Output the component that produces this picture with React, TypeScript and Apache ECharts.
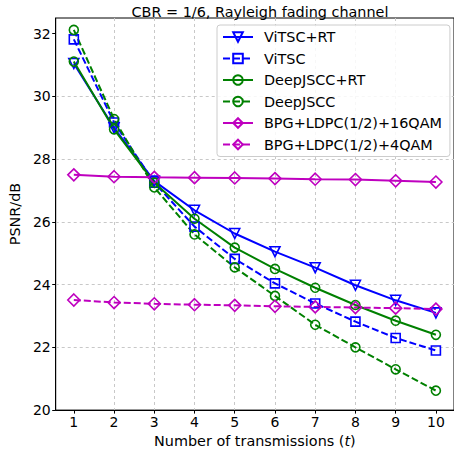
import React, { useEffect, useRef } from "react";
import * as echarts from "echarts";

const transmissions = [1, 2, 3, 4, 5, 6, 7, 8, 9, 10];
const xTicks = [1, 2, 3, 4, 5, 6, 7, 8, 9, 10];
const yTicks = [20, 22, 24, 26, 28, 30, 32];

const vitscRT = [31.05, 29.0, 27.3, 26.37, 25.63, 25.05, 24.54, 23.98, 23.5, 23.1];
const vitsc = [31.82, 29.17, 27.25, 25.85, 24.82, 24.04, 23.4, 22.82, 22.3, 21.9];
const deepjsccRT = [31.11, 28.95, 27.25, 26.1, 25.18, 24.5, 23.9, 23.35, 22.85, 22.4];
const deepjscc = [32.12, 29.28, 27.1, 25.6, 24.55, 23.64, 22.72, 22.0, 21.3, 20.62];
const bpg16 = [27.5, 27.44, 27.42, 27.41, 27.4, 27.38, 27.36, 27.35, 27.31, 27.27];
const bpg4 = [23.51, 23.43, 23.39, 23.36, 23.34, 23.31, 23.29, 23.27, 23.25, 23.22];

const names = [
  "ViTSC+RT",
  "ViTSC",
  "DeepJSCC+RT",
  "DeepJSCC",
  "BPG+LDPC(1/2)+16QAM",
  "BPG+LDPC(1/2)+4QAM",
];

const BLUE = "#0000ff";
const GREEN = "#008000";
const MAGENTA = "#bf00bf";

function mk(name: string, vals: number[], color: string, dashed: boolean, symbol: string, size: number, rotate = 0) {
  return {
    name,
    type: "line",
    data: transmissions.map((x, i) => [x, vals[i]]),
    color,
    symbol,
    symbolSize: size,
    symbolRotate: rotate,
    lineStyle: { color, width: 2, type: dashed ? [7, 3] : "solid" },
    itemStyle: { color: "rgba(255,255,255,0)", borderColor: color, borderWidth: 1.6 },
    emphasis: { disabled: true },
  };
}

export default function App() {
  const ref = useRef<HTMLDivElement>(null);
  useEffect(() => {
    if (!ref.current) return;
    const chart = echarts.init(ref.current, null, { renderer: "svg" });
    const font = "DejaVu Sans";
    const fs = 14.4;
    chart.setOption({
      animation: false,
      backgroundColor: "#fff",
      textStyle: { fontFamily: font },
      title: {
        text: "CBR = 1/6, Rayleigh fading channel",
        left: 255,
        textAlign: "center",
        top: 0,
        textStyle: { fontFamily: font, fontSize: fs, fontWeight: "normal", color: "#000" },
      },
      grid: {
        left: 55,
        right: -1,
        top: 18,
        bottom: 39,
        show: true,
        borderColor: "#000",
        borderWidth: 1,
        backgroundColor: "transparent",
      },
      legend: {
        left: 217,
        top: 25,
        orient: "vertical",
        itemWidth: 30,
        itemHeight: 12,
        itemGap: 7.5,
        padding: [5, 8, 5, 5],
        backgroundColor: "rgba(255,255,255,0.85)",
        borderColor: "#cccccc",
        borderWidth: 1,
        borderRadius: 3,
        textStyle: { fontFamily: font, fontSize: fs, color: "#000", padding: [0, 0, 0, 6] },
        data: names,
      },
      xAxis: {
        type: "value",
        min: 0.55,
        max: 10.45,
        splitNumber: 10,
        minInterval: 1,
        maxInterval: 1,
        name: "Number of transmissions ({i|t})",
        nameLocation: "middle",
        nameGap: 21,
        nameTextStyle: {
          fontFamily: font,
          fontSize: fs,
          color: "#000",
          rich: { i: { fontStyle: "italic", fontFamily: font, fontSize: fs, color: "#000" } },
        },
        axisLine: { show: true, lineStyle: { color: "#000", width: 1 } },
        axisTick: { show: true, inside: false, length: 3.5, customValues: xTicks, lineStyle: { color: "#000" } },
        axisLabel: {
          customValues: xTicks,
          margin: 5,
          fontFamily: font,
          fontSize: 14,
          color: "#000",
          formatter: (v: number) => (Number.isInteger(v) ? String(v) : ""),
        },
        splitLine: {
          show: true,
          showMinLine: false,
          showMaxLine: false,
          lineStyle: { color: "#c8c8c8", type: [3, 3], width: 1 },
        },
      },
      yAxis: {
        type: "value",
        min: 20,
        max: 32.5,
        interval: 2,
        name: "PSNR/dB",
        nameLocation: "middle",
        nameGap: 24,
        nameRotate: 90,
        nameTextStyle: { fontFamily: font, fontSize: fs, color: "#000" },
        axisLine: { show: true, lineStyle: { color: "#000", width: 1 } },
        axisTick: { show: true, inside: false, length: 3.5, customValues: yTicks, lineStyle: { color: "#000" } },
        axisLabel: {
          customValues: yTicks,
          margin: 5,
          fontFamily: font,
          fontSize: 14,
          color: "#000",
          formatter: (v: number) => (v % 2 === 0 ? String(v) : ""),
        },
        splitLine: {
          show: true,
          showMinLine: false,
          showMaxLine: false,
          lineStyle: { color: "#c8c8c8", type: [3, 3], width: 1 },
        },
      },
      series: [
        mk(names[0], vitscRT, BLUE, false, "triangle", 10, 180),
        mk(names[1], vitsc, BLUE, true, "rect", 9),
        mk(names[2], deepjsccRT, GREEN, false, "circle", 9),
        mk(names[3], deepjscc, GREEN, true, "circle", 9),
        mk(names[4], bpg16, MAGENTA, false, "diamond", 12),
        mk(names[5], bpg4, MAGENTA, true, "diamond", 12),
      ],
    });
    return () => chart.dispose();
  }, []);
  return <div ref={ref} style={{ width: 454, height: 453, position: "absolute", left: 0, top: 0 }} />;
}
